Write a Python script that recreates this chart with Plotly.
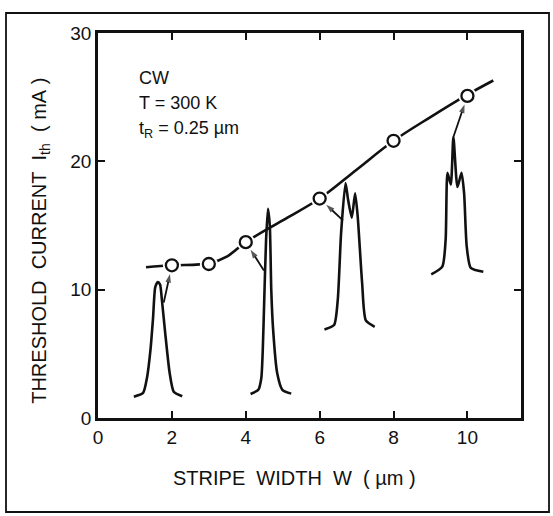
import math
import plotly.graph_objects as go

# Measured threshold current vs stripe width
stripe_width = [2, 3, 4, 6, 8, 10]
threshold_current = [11.9, 12.0, 13.7, 17.1, 21.6, 25.1]

# Smooth fitted curve through the data
curve_x = [1.3, 2.0, 3.0, 3.5, 4.0, 5.0, 6.0, 7.0, 8.0, 9.0, 10.0, 10.7]
curve_y = [11.75, 11.9, 12.05, 12.6, 13.7, 15.4, 17.1, 19.35, 21.6, 23.45, 25.2, 26.3]

# Near-field intensity profiles (inset sketches), in data coordinates
prof1_x = [0.97, 1.22, 1.33, 1.42, 1.49, 1.55, 1.62, 1.68, 1.73, 1.82, 1.94, 2.05, 2.28]
prof1_y = [1.66, 1.95, 3.2, 5.3, 7.8, 10.2, 10.6, 10.4, 9.2, 6.6, 3.5, 2.05, 1.7]

prof2_x = [4.13, 4.34, 4.42, 4.46, 4.50, 4.55, 4.60, 4.65, 4.69, 4.74, 4.85, 4.99, 5.23]
prof2_y = [1.87, 2.2, 3.1, 5.3, 9.2, 13.9, 16.3, 15.0, 10.0, 6.9, 3.5, 2.2, 1.9]

prof3_x = [6.13, 6.39, 6.49, 6.58, 6.70, 6.77, 6.87, 6.96, 7.03, 7.15, 7.25, 7.49]
prof3_y = [6.9, 7.25, 9.2, 14.4, 18.3, 17.0, 15.6, 17.5, 15.7, 10.5, 7.6, 7.1]

prof4_x = [9.02, 9.32, 9.41, 9.46, 9.55, 9.62, 9.73, 9.84, 9.91, 9.98, 10.09, 10.43]
prof4_y = [11.2, 11.8, 13.9, 19.1, 18.2, 21.9, 18.0, 19.1, 17.5, 13.4, 11.7, 11.4]

# Arrows: tail points, each pointing at a data point (by index)
arrow_tails = [(1.78, 9.0), (4.49, 11.5), (6.63, 15.4), (9.62, 21.9)]
arrow_targets = [0, 2, 3, 5]

x_ticks = [0, 2, 4, 6, 8, 10]
y_ticks = [0, 10, 20, 30]

X_RANGE = [0, 11.45]
Y_RANGE = [0, 30]
MARGIN = dict(l=98, r=32, t=33, b=98)
W, H = 553, 516

FONT = "Liberation Sans"
BLACK = "#111111"

fig = go.Figure()

for px, py in [(prof1_x, prof1_y), (prof2_x, prof2_y), (prof3_x, prof3_y), (prof4_x, prof4_y)]:
    fig.add_trace(go.Scatter(x=px, y=py, mode="lines",
                             line=dict(color=BLACK, width=2.6, shape="spline", smoothing=0.6),
                             hoverinfo="skip", showlegend=False))

fig.add_trace(go.Scatter(x=curve_x, y=curve_y, mode="lines",
                         line=dict(color=BLACK, width=2.6, shape="spline", smoothing=1.0),
                         showlegend=False))
# white halo to create gaps around the circles
fig.add_trace(go.Scatter(x=stripe_width, y=threshold_current, mode="markers",
                         marker=dict(size=18, color="white", line=dict(width=0)),
                         showlegend=False, hoverinfo="skip"))
fig.add_trace(go.Scatter(x=stripe_width, y=threshold_current, mode="markers",
                         marker=dict(size=12, color="white", line=dict(width=2.3, color=BLACK)),
                         showlegend=False))

# arrows drawn as line traces ending just short of the circle
sx = (W - MARGIN["l"] - MARGIN["r"]) / (X_RANGE[1] - X_RANGE[0])
sy = (H - MARGIN["t"] - MARGIN["b"]) / (Y_RANGE[1] - Y_RANGE[0])
standoff = 9
for (tx, ty), idx in zip(arrow_tails, arrow_targets):
    hx, hy = stripe_width[idx], threshold_current[idx]
    dxp, dyp = (hx - tx) * sx, (hy - ty) * sy
    L = math.hypot(dxp, dyp)
    ex = hx - dxp / L * standoff / sx
    ey = hy - dyp / L * standoff / sy
    fig.add_trace(go.Scatter(x=[tx, ex], y=[ty, ey], mode="lines+markers",
                             line=dict(color=BLACK, width=1.8),
                             marker=dict(symbol="arrow", size=[0, 9], angleref="previous",
                                         color=BLACK, line=dict(width=0)),
                             hoverinfo="skip", showlegend=False))

tf = dict(family=FONT, size=18, color=BLACK)
annotations = [
    dict(x=1.06, y=26.5, xref="x", yref="y", text="CW", showarrow=False,
         xanchor="left", yanchor="middle", font=tf),
    dict(x=1.06, y=24.55, xref="x", yref="y", text="T = 300 K", showarrow=False,
         xanchor="left", yanchor="middle", font=tf),
    dict(x=1.06, y=22.45, xref="x", yref="y", text="t<sub>R</sub> = 0.25 µm", showarrow=False,
         xanchor="left", yanchor="middle", font=tf),
    dict(x=0.465, y=-0.155, xref="paper", yref="paper",
         text="STRIPE\u00a0\u00a0WIDTH\u00a0\u00a0W\u00a0\u00a0(\u00a0µm\u00a0)", showarrow=False,
         xanchor="center", yanchor="middle", font=dict(family=FONT, size=20, color=BLACK)),
    dict(x=-0.135, y=0.46, xref="paper", yref="paper", textangle=-90,
         text="THRESHOLD\u00a0\u00a0CURRENT\u00a0\u00a0I<sub>th</sub>\u00a0\u00a0(\u00a0mA\u00a0)", showarrow=False,
         xanchor="center", yanchor="middle", font=dict(family=FONT, size=20, color=BLACK)),
]

axis_common = dict(showline=True, linecolor=BLACK, linewidth=2.5, mirror="ticks",
                   ticks="inside", ticklen=7, tickwidth=2, tickcolor=BLACK,
                   showgrid=False, zeroline=False,
                   tickfont=dict(family=FONT, size=19, color=BLACK))

fig.update_layout(
    width=W, height=H,
    margin=MARGIN,
    paper_bgcolor="white", plot_bgcolor="white",
    showlegend=False,
    xaxis=dict(range=X_RANGE, tickvals=x_ticks, ticktext=[str(v) for v in x_ticks], **axis_common),
    yaxis=dict(range=Y_RANGE, tickvals=y_ticks, ticktext=[str(v) for v in y_ticks], **axis_common),
    annotations=annotations,
    shapes=[dict(type="rect", xref="paper", yref="paper",
                 x0=(6 - 98) / 423, x1=(549 - 98) / 423,
                 y0=(418 - 512) / 385, y1=(418 - 13) / 385,
                 line=dict(color=BLACK, width=1.8))],
)

fig.write_html("out.html")
